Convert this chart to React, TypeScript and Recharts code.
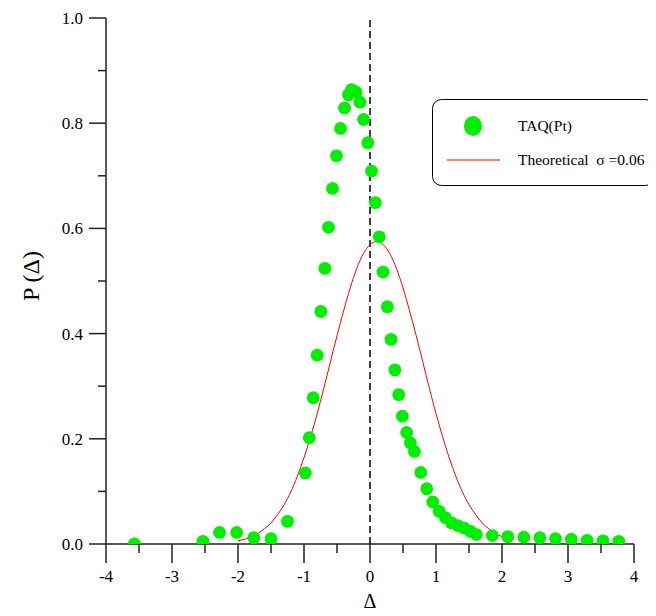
import {
  ComposedChart,
  Scatter,
  Line,
  XAxis,
  YAxis,
  ReferenceLine,
  Legend,
  Label,
} from "recharts";

const taqX = [
  -3.57, -2.53, -2.28, -2.02, -1.76, -1.5, -1.25, -0.98, -0.92, -0.86, -0.8,
  -0.745, -0.684, -0.629, -0.568, -0.508, -0.447, -0.386, -0.327, -0.28,
  -0.211, -0.152, -0.097, -0.033, 0.023, 0.081, 0.141, 0.198, 0.263, 0.319,
  0.377, 0.435, 0.491, 0.556, 0.612, 0.673, 0.769, 0.86, 0.951, 1.049, 1.144,
  1.236, 1.331, 1.429, 1.524, 1.611, 1.854, 2.087, 2.33, 2.573, 2.81, 3.05,
  3.29, 3.53, 3.77,
];
const taqY = [
  0.0, 0.005, 0.022, 0.022, 0.012, 0.01, 0.043, 0.135, 0.202, 0.278, 0.359,
  0.442, 0.524, 0.602, 0.676, 0.738, 0.79, 0.829, 0.854, 0.864, 0.859, 0.84,
  0.807, 0.763, 0.709, 0.649, 0.584, 0.517, 0.451, 0.389, 0.331, 0.284, 0.243,
  0.212, 0.192, 0.176, 0.136, 0.105, 0.08, 0.062, 0.05, 0.04, 0.035, 0.03,
  0.024, 0.018, 0.016, 0.014, 0.013, 0.012, 0.01, 0.009, 0.007, 0.006, 0.005,
];

// theoretical curve (red)
const theoX = [
  -2.0, -1.9, -1.8, -1.7, -1.6, -1.5, -1.4, -1.3, -1.2, -1.1, -1.0, -0.9, -0.8,
  -0.7, -0.6, -0.5, -0.4, -0.3, -0.2, -0.1, 0.0, 0.1, 0.2, 0.3, 0.4, 0.5, 0.6,
  0.7, 0.8, 0.9, 1.0, 1.1, 1.2, 1.3, 1.4, 1.5, 1.6, 1.7, 1.8, 1.9, 2.0,
];
const theoY = [
  0.006, 0.009, 0.014, 0.02, 0.029, 0.04, 0.056, 0.075, 0.099, 0.129, 0.164,
  0.204, 0.248, 0.296, 0.346, 0.396, 0.443, 0.487, 0.524, 0.552, 0.569, 0.575,
  0.569, 0.552, 0.524, 0.487, 0.443, 0.396, 0.346, 0.296, 0.248, 0.204, 0.164,
  0.129, 0.099, 0.075, 0.056, 0.04, 0.029, 0.02, 0.014,
];

const xTicks = [-4, -3.5, -3, -2.5, -2, -1.5, -1, -0.5, 0, 0.5, 1, 1.5, 2, 2.5, 3, 3.5, 4];
const yTicks = [0, 0.1, 0.2, 0.3, 0.4, 0.5, 0.6, 0.7, 0.8, 0.9, 1.0];

const taqData = taqX.map((x, i) => ({ x, y: taqY[i] }));
const theoData = theoX.map((x, i) => ({ x, y: theoY[i] }));

const FONT = "Liberation Serif";
const AXIS = "#222";
const GREEN = "#00ee00";

// eslint-disable-next-line @typescript-eslint/no-explicit-any
function XTick({ x, y, payload }: any) {
  const major = Number.isInteger(payload.value);
  return (
    <g>
      <line x1={x} x2={x} y1={y} y2={y + (major ? 19 : 9)} stroke={AXIS} strokeWidth={1.5} />
      {major && (
        <text x={x} y={y + 26} dy="0.71em" textAnchor="middle" fontFamily={FONT} fontSize={17} fill="#000">
          {payload.value}
        </text>
      )}
    </g>
  );
}

// eslint-disable-next-line @typescript-eslint/no-explicit-any
function YTick({ x, y, payload }: any) {
  const major = Math.round(payload.value * 10) % 2 === 0;
  return (
    <g>
      <line x1={x - (major ? 17 : 8)} x2={x} y1={y} y2={y} stroke={AXIS} strokeWidth={1.5} />
      {major && (
        <text x={x - 23} y={y} dy="0.35em" textAnchor="end" fontFamily={FONT} fontSize={17} fill="#000">
          {payload.value.toFixed(1)}
        </text>
      )}
    </g>
  );
}

function LegendBox() {
  return (
    <svg width={224} height={88} style={{ display: "block" }}>
      <rect x={0.5} y={0.5} width={222} height={86} rx={9} fill="#fff" stroke="#000" strokeWidth={1} />
      <ellipse cx={41} cy={27} rx={9} ry={10} fill={GREEN} />
      <text x={86} y={27} dy="0.35em" fontFamily={FONT} fontSize={15.5} fill="#000">
        TAQ(Pt)
      </text>
      <line x1={15} x2={68} y1={61} y2={61} stroke="#ff0000" strokeWidth={1} />
      <text x={86} y={61} dy="0.35em" fontFamily={FONT} fontSize={15.5} fill="#000" style={{ whiteSpace: "pre" }}>
        {"Theoretical  σ =0.06"}
      </text>
    </svg>
  );
}

export default function App() {
  return (
    <ComposedChart width={640} height={608} margin={{ top: 10, right: 14, bottom: 16, left: 0 }}>
      <XAxis
        type="number"
        dataKey="x"
        domain={[-4, 4]}
        ticks={xTicks}
        interval={0}
        tick={<XTick />}
        tickLine={false}
        tickSize={0}
        tickMargin={0}
        axisLine={{ stroke: AXIS, strokeWidth: 1.5 }}
        height={56}
        allowDataOverflow
      >
        <Label
          // eslint-disable-next-line @typescript-eslint/no-explicit-any
          content={({ viewBox }: any) => (
            <text
              x={viewBox.x + viewBox.width / 2}
              y={viewBox.y + 57}
              textAnchor="middle"
              dominantBaseline="central"
              fontFamily={FONT}
              fontSize={20}
              fill="#000"
            >
              Δ
            </text>
          )}
        />
      </XAxis>
      <YAxis
        type="number"
        dataKey="y"
        domain={[0, 1]}
        ticks={yTicks}
        interval={0}
        tick={<YTick />}
        tickLine={false}
        tickSize={0}
        tickMargin={0}
        axisLine={{ stroke: AXIS, strokeWidth: 1.5 }}
        width={98}
        allowDataOverflow
      >
        <Label
          // eslint-disable-next-line @typescript-eslint/no-explicit-any
          content={({ viewBox }: any) => {
            const cx = viewBox.x + 23;
            const cy = viewBox.y + viewBox.height / 2 - 5;
            return (
              <text
                x={cx}
                y={cy}
                transform={`rotate(-90, ${cx}, ${cy})`}
                textAnchor="middle"
                dominantBaseline="central"
                fontFamily={FONT}
                fontSize={24}
                fill="#000"
              >
                P (Δ)
              </text>
            );
          }}
        />
      </YAxis>
      <ReferenceLine x={0} stroke="#000" strokeWidth={1.5} strokeDasharray="7 4" />
      <Scatter
        data={taqData}
        dataKey="y"
        isAnimationActive={false}
        // eslint-disable-next-line @typescript-eslint/no-explicit-any
        shape={(p: any) => <circle cx={p.cx} cy={p.cy} r={6.4} fill={GREEN} />}
      />
      <Line
        data={theoData}
        dataKey="y"
        type="monotone"
        stroke="#ff0000"
        strokeWidth={1}
        dot={false}
        activeDot={false}
        isAnimationActive={false}
      />
      <Legend
        layout="horizontal"
        verticalAlign="middle"
        align="center"
        content={() => <LegendBox />}
        wrapperStyle={{ position: "absolute", left: 424, top: 91, width: 224, height: 88 }}
      />
    </ComposedChart>
  );
}
